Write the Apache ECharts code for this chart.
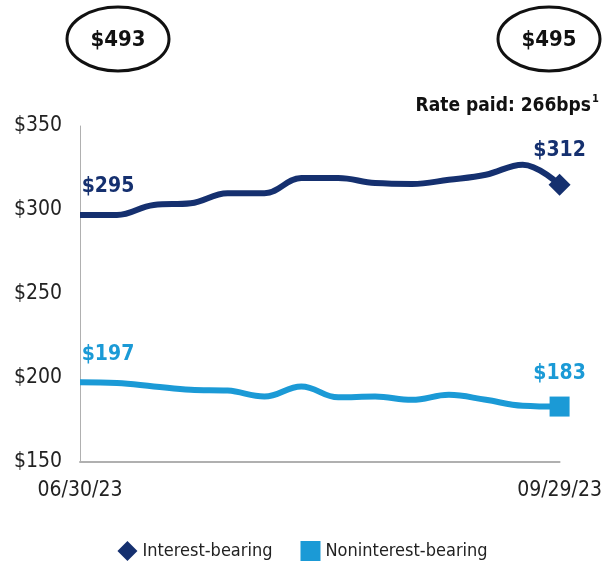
<!DOCTYPE html>
<html>
<head>
<meta charset="utf-8">
<script src="https://cdn.jsdelivr.net/npm/echarts@6/dist/echarts.min.js"></script>
<style>
  html, body { margin: 0; padding: 0; background: #fff; }
  #chart { width: 605px; height: 568px; }
</style>
</head>
<body>
<div id="chart"></div>
<script>
// weekly points, 06/30/23 .. 09/29/23
const dates = ['06/30/23', '07/07/23', '07/14/23', '07/21/23', '07/28/23', '08/04/23', '08/11/23',
  '08/18/23', '08/25/23', '09/01/23', '09/08/23', '09/15/23', '09/22/23', '09/29/23']
const interestBearing = [297, 297, 303, 304, 310, 310, 319, 319, 316, 315.5, 318, 321, 327, 315]
const nonInterest = [197.5, 197, 195, 193, 192.5, 189, 195, 188.5, 189, 187, 190, 187, 183.5, 183]
const yTicks = [150, 200, 250, 300, 350]
const ibLabels = ['$295', '$312']   // first / last
const niLabels = ['$197', '$183']
const totals = ['$493', '$495']

const navy = '#15306f'
const sky = '#1b9ad6'
const font = "'Liberation Sans Narrow', 'DejaVu Sans Condensed', 'Noto Sans', sans-serif"
const last = dates.length - 1

// mark only the last point, label first and last
const buildData = (vals, symbol, labels, color) => vals.map((v, i) => {
  let item = { value: v }
  if (i === 0) {
    // invisible symbol so the label gets drawn
    item.symbol = 'circle'
    item.symbolSize = 1
    item.itemStyle = { color: 'transparent', borderWidth: 0 }
  }
  if (i === last) {
    item.symbol = symbol
    item.symbolSize = symbol === 'diamond' ? 22 : 20
  }
  if (i === 0 || i === last) {
    item.label = {
      show: true,
      formatter: i === 0 ? labels[0] : labels[1],
      position: 'top',
      offset: i === 0 ? [28, -12] : [0, -8],
      color: color,
      fontFamily: font,
      fontWeight: 'bold',
      fontSize: 21
    }
  }
  return item
})

let chart = echarts.init(document.getElementById('chart'))
chart.setOption({
  animation: false,
  textStyle: { fontFamily: font },
  grid: { left: 80, right: 43, top: 126, bottom: 106 },
  xAxis: {
    type: 'category',
    data: dates,
    boundaryGap: false,
    axisLine: { lineStyle: { color: '#b0b0b0', width: 2 } },
    axisTick: { show: false },
    axisLabel: {
      interval: (i) => i === 0 || i === last,
      color: '#222',
      fontSize: 21,
      margin: 18,
      fontFamily: font
    }
  },
  yAxis: {
    type: 'value',
    min: yTicks[0],
    max: yTicks[yTicks.length - 1],
    interval: 50,
    splitLine: { show: false },
    axisLine: { show: true, lineStyle: { color: '#b0b0b0', width: 1 } },
    axisTick: { show: false },
    axisLabel: {
      formatter: (v) => '$' + v,
      color: '#222',
      fontSize: 21,
      margin: 18,
      fontFamily: font
    }
  },
  legend: {
    bottom: 2,
    left: 'center',
    itemWidth: 20,
    itemHeight: 20,
    itemGap: 28,
    textStyle: { color: '#222', fontSize: 18, fontFamily: font },
    data: [
      { name: 'Interest-bearing', icon: 'diamond' },
      { name: 'Noninterest-bearing', icon: 'rect' }
    ]
  },
  series: [
    {
      name: 'Interest-bearing',
      type: 'line',
      smooth: 0.4,
      symbol: 'none',
      showAllSymbol: true,
      color: navy,
      lineStyle: { color: navy, width: 6 },
      data: buildData(interestBearing, 'diamond', ibLabels, navy)
    },
    {
      name: 'Noninterest-bearing',
      type: 'line',
      smooth: 0.4,
      symbol: 'none',
      showAllSymbol: true,
      color: sky,
      lineStyle: { color: sky, width: 6 },
      data: buildData(nonInterest, 'rect', niLabels, sky)
    }
  ],
  graphic: [
    { type: 'ellipse', shape: { cx: 118, cy: 39, rx: 51, ry: 32 },
      style: { fill: 'none', stroke: '#111', lineWidth: 3 } },
    { type: 'text', x: 118, y: 40,
      style: { text: totals[0], fill: '#111', font: 'bold 22px ' + font, align: 'center', verticalAlign: 'middle' } },
    { type: 'ellipse', shape: { cx: 549, cy: 39, rx: 51, ry: 32 },
      style: { fill: 'none', stroke: '#111', lineWidth: 3 } },
    { type: 'text', x: 549, y: 40,
      style: { text: totals[1], fill: '#111', font: 'bold 22px ' + font, align: 'center', verticalAlign: 'middle' } },
    { type: 'text', right: 14, top: 97,
      style: { text: 'Rate paid: 266bps', fill: '#111', font: 'bold 19px ' + font } },
    { type: 'text', right: 6, top: 94,
      style: { text: '1', fill: '#111', font: 'bold 11px ' + font } }
  ]
})
</script>
</body>
</html>
